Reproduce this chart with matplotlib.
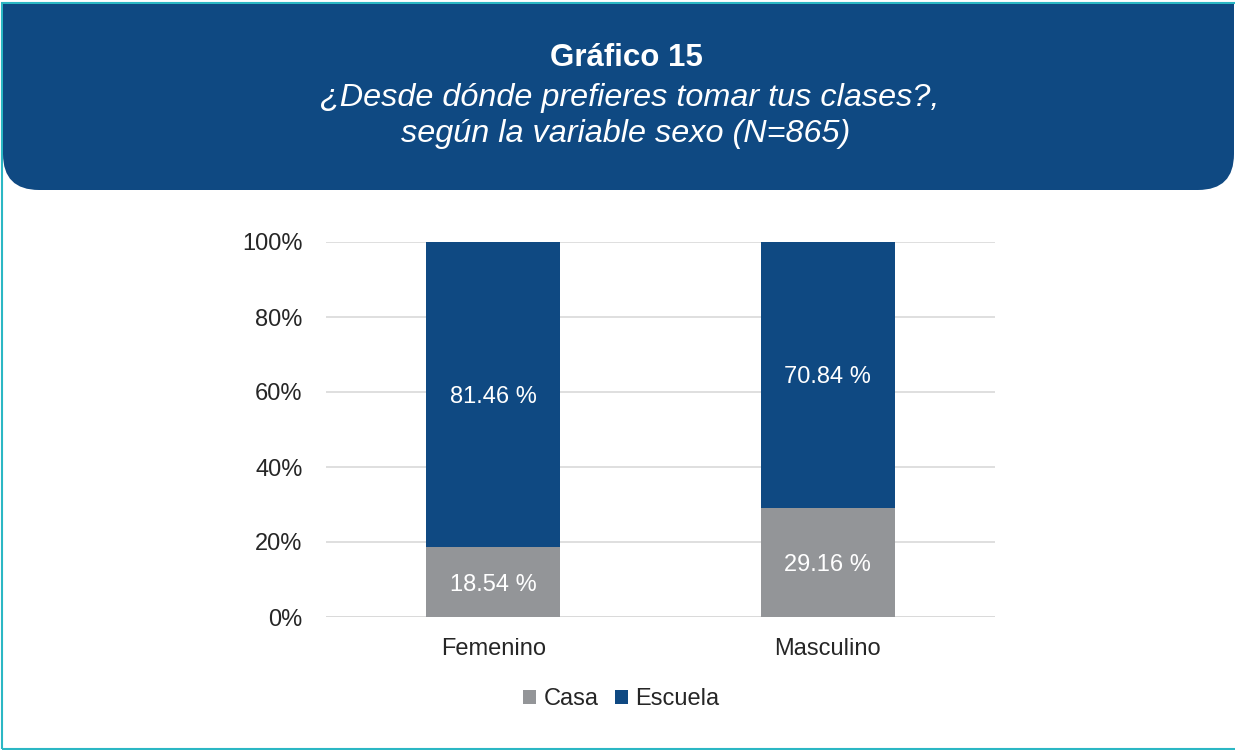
import numpy as np
import matplotlib.pyplot as plt
from matplotlib.patches import FancyBboxPatch, Rectangle
from matplotlib.transforms import IdentityTransform

plt.rcParams['font.family'] = ['Liberation Sans', 'DejaVu Sans']

# Datos
categorias = ["Femenino", "Masculino"]
casa = [18.54, 29.16]
escuela = [81.46, 70.84]
ticks_y = [0, 20, 40, 60, 80, 100]

azul = "#0f4982"
gris = "#939598"
borde = "#2bb7c4"
texto = "#262626"

W, H = 1235, 750
fig = plt.figure(figsize=(W / 100, H / 100), dpi=100)

# Marco y cabecera (en píxeles)
fig.patches.append(Rectangle((2, 1.5), W + 20, H - 4, transform=IdentityTransform(),
                             facecolor="none", edgecolor=borde, lw=1.5, zorder=-2))
r = 36
fig.patches.append(FancyBboxPatch((3, H - 190), W - 4, 120, transform=IdentityTransform(),
                                  boxstyle=f"round,pad=0,rounding_size={r}",
                                  facecolor=azul, edgecolor="none", zorder=-1))
fig.patches.append(Rectangle((3, H - 120), W - 4, 116, transform=IdentityTransform(),
                             facecolor=azul, edgecolor="none", zorder=-1))

xc = 626 / W
fig.text(xc, 1 - 58 / H, "Gráfico 15", color="white", fontsize=22.5, fontweight="bold",
         ha="center", va="center")
fig.text(xc + 4 / W, 1 - 98 / H, "¿Desde dónde prefieres tomar tus clases?,", color="white",
         fontsize=23.3, style="italic", ha="center", va="center")
fig.text(xc, 1 - 134 / H, "según la variable sexo (N=865)", color="white",
         fontsize=23.3, style="italic", ha="center", va="center")

# Gráfico
ax = fig.add_axes([326 / W, 1 - 617 / H, (995 - 326) / W, (617 - 242) / H])
x = np.arange(len(categorias))
ancho = 0.4
ax.bar(x, casa, ancho, color=gris, label="Casa", zorder=3)
ax.bar(x, escuela, ancho, bottom=casa, color=azul, label="Escuela", zorder=3)

for i in range(len(categorias)):
    ax.text(x[i], casa[i] / 2, f"{casa[i]:.2f} %", color="white", fontsize=17,
            ha="center", va="center_baseline", zorder=4)
    ax.text(x[i], casa[i] + escuela[i] / 2, f"{escuela[i]:.2f} %", color="white",
            fontsize=17, ha="center", va="center_baseline", zorder=4)

ax.set_xlim(-0.5, 1.5)
ax.set_ylim(0, 100)
ax.set_yticks(ticks_y)
ax.set_yticklabels([f"{t}%" for t in ticks_y])
ax.set_xticks(x)
ax.set_xticklabels(categorias)
ax.tick_params(axis="both", length=0, labelsize=17, colors=texto)
ax.tick_params(axis="y", pad=17)
ax.tick_params(axis="x", pad=15)
ax.grid(axis="y", color="#d9d9d9", lw=1.2, zorder=0)
for s in ax.spines.values():
    s.set_visible(False)
ax.axhline(0, color="#d9d9d9", lw=1.2, zorder=2)

ax.legend(loc="center", bbox_to_anchor=(0.5 - 39 / 669, -82 / 375), ncol=2, frameon=False,
          fontsize=17, handlelength=0.55, handleheight=0.55, handletextpad=0.3,
          columnspacing=0.72, labelcolor=texto)

fig.savefig("out.png", dpi=100)
